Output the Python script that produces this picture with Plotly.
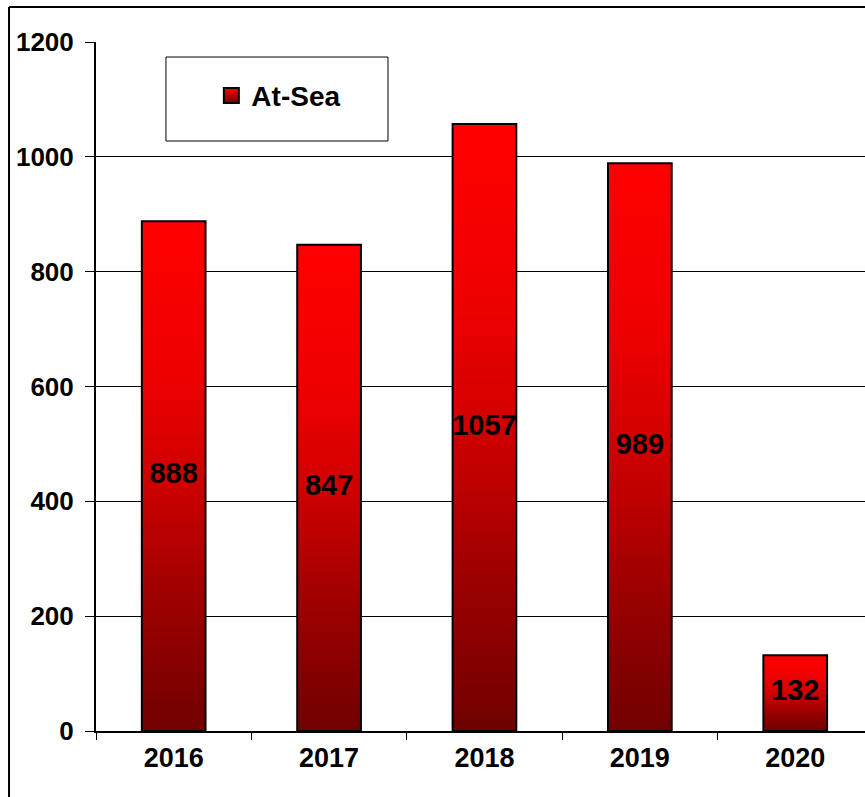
import plotly.graph_objects as go

years = ["2016", "2017", "2018", "2019", "2020"]
at_sea = [888, 847, 1057, 989, 132]
y_ticks = [0, 200, 400, 600, 800, 1000, 1200]
series_name = "At-Sea"

FONT = "Liberation Sans, Arial, sans-serif"
BAR_W = 0.41
GRAD = [[0.0, "#700000"], [0.27, "#a00000"], [0.5, "#d00000"],
        [0.7, "#ee0000"], [1.0, "#ff0000"]]

fig = go.Figure()

for i, v in enumerate(at_sea):
    fig.add_trace(go.Scatter(
        x=[i - BAR_W / 2, i + BAR_W / 2, i + BAR_W / 2, i - BAR_W / 2, i - BAR_W / 2],
        y=[0, 0, v, v, 0],
        mode="lines", fill="toself",
        line=dict(color="black", width=2),
        fillgradient=dict(type="vertical", colorscale=GRAD),
        showlegend=False, hoverinfo="skip",
    ))

fig.add_trace(go.Scatter(
    x=list(range(len(years))), y=[v / 2 for v in at_sea],
    mode="text", text=[str(v) for v in at_sea],
    textfont=dict(family=FONT, size=29, color="black", weight="bold"),
    showlegend=False, hoverinfo="skip",
))

fig.add_trace(go.Scatter(
    x=[None], y=[None], mode="markers", name=series_name,
    marker=dict(symbol="square", size=15, color="#ff0000",
                gradient=dict(type="vertical", color="#700000"),
                line=dict(color="black", width=2)),
))

fig.update_layout(
    width=865, height=797,
    margin=dict(l=96, r=0, t=42, b=66),
    paper_bgcolor="white", plot_bgcolor="white",
    showlegend=True,
    legend=dict(x=0.150, y=0.922, xanchor="left", yanchor="middle",
                bgcolor="rgba(0,0,0,0)", borderwidth=0,
                font=dict(family=FONT, size=28, color="black", weight="bold")),
    xaxis=dict(
        range=[-0.5, 4.449], tickmode="array",
        tickvals=list(range(len(years))), ticktext=years,
        ticks="", showgrid=False, zeroline=False,
        showline=True, linecolor="black", linewidth=2,
        tickfont=dict(family=FONT, size=27, color="black", weight="bold"),
        ticklabelstandoff=2,
        minor=dict(tickmode="array", tickvals=[-0.5, 0.5, 1.5, 2.5, 3.5],
                   ticks="outside", ticklen=7, tickcolor="black", tickwidth=1,
                   showgrid=False),
    ),
    yaxis=dict(
        range=[0, 1200], tickmode="array", tickvals=y_ticks,
        ticks="outside", ticklen=9, tickcolor="black", tickwidth=1,
        showgrid=True, gridcolor="black", gridwidth=1,
        zeroline=False, showline=True, linecolor="black", linewidth=2,
        tickfont=dict(family=FONT, size=26, color="black", weight="bold"),
        ticklabelstandoff=6,
    ),
    shapes=[
        dict(type="rect", xref="paper", yref="paper",
             x0=0.0910, x1=0.3797, y0=0.8563, y1=0.9782,
             line=dict(color="black", width=1), fillcolor="rgba(0,0,0,0)"),
        dict(type="line", xref="paper", yref="paper",
             x0=-0.1131, x1=-0.1131, y0=-0.2, y1=1.0508,
             line=dict(color="black", width=2)),
        dict(type="line", xref="paper", yref="paper",
             x0=-0.1131, x1=1.1, y0=1.0508, y1=1.0508,
             line=dict(color="black", width=2)),
    ],
)

fig.write_html("out.html", config={"displayModeBar": False},
               post_script="document.body.style.margin='0';document.body.style.overflow='hidden';")
